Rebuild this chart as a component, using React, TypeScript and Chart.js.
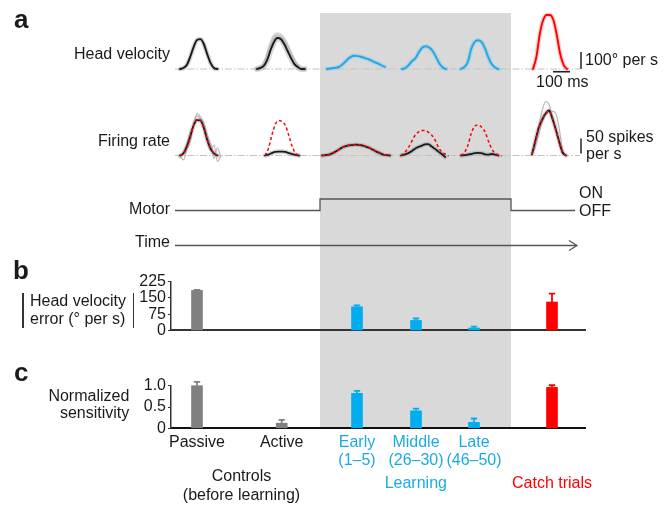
import React, { useEffect, useRef } from 'react';
import { Chart, registerables } from 'chart.js';

Chart.register(...registerables);

// ---------------- data ----------------
const CATEGORY_TICK_LABELS: string[][] = [['Passive'], ['Active'], ['Early', '(1–5)'], ['Middle', '(26–30)'], ['Late', '(46–50)'], ['']];

// panel b: head velocity error (deg/s), mean and s.e.m.
const hvErrorMean: (number | null)[] = [185, null, 109, 46, 11, 131];
const hvErrorSem: (number | null)[] = [2, null, 7, 9, 6, 39];
// panel c: normalized sensitivity, mean and s.e.m.
const sensitivityMean: number[] = [1.0, 0.12, 0.82, 0.41, 0.14, 0.96];
const sensitivitySem: number[] = [0.09, 0.08, 0.06, 0.05, 0.09, 0.05];

const hvErrorTickStep = 75;
const hvErrorMax = 225;
const sensitivityTickStep = 0.5;
const sensitivityMax = 1.0;

// panel a: head velocity traces (deg/s), sampled every 20 ms
const hvPassive = [0, 6, 24, 71, 129, 171, 176, 147, 88, 35, 6, 0];
const hvActive = [0, 6, 18, 53, 112, 159, 182, 176, 147, 106, 65, 29, 12, 0, 0];
const hvActiveTrial = [0, 8, 25, 70, 140, 190, 205, 195, 170, 130, 85, 45, 15, 2, 0];
const hvEarly = [0, 3, 6, 9, 18, 35, 56, 71, 78, 76, 72, 66, 59, 50, 41, 32, 22, 13];
const hvMiddle = [0, 6, 24, 47, 65, 100, 126, 134, 126, 106, 71, 32, 9, 0];
const hvLate = [0, 12, 41, 118, 159, 169, 159, 124, 71, 29, 9, 0];
const hvCatch = [0, 71, 206, 288, 318, 318, 288, 200, 88, 24, 0];

// panel a: firing rate traces (spikes/s), sampled every 20 ms
const frPassive = [0, 7, 30, 63, 100, 118, 117, 93, 53, 23, 7, 0];
const frPassivePred = [0, 5, 25, 60, 100, 120, 118, 92, 55, 25, 8, 0];
const frPassiveTrialA = [0, -15, 20, 45, 110, 132, 122, 90, 45, 15, 35, -20, 0];
const frPassiveTrialB = [-8, 12, 40, 80, 100, 140, 130, 110, 70, 40, -10, 25, -5];
const frActive = [0, 3, 8, 12, 13, 13, 12, 8, 5, 2, 0];
const frActivePred = [0, 23, 67, 103, 117, 113, 100, 67, 30, 7, 0];
const frEarly = [0, 1, 3, 7, 13, 20, 27, 31, 34, 35, 36, 35, 33, 29, 25, 19, 13, 8, 3, 1, 0];
const frEarlyPred = [0, 0, 2, 6, 12, 20, 27, 32, 35, 36, 37, 36, 34, 30, 26, 20, 14, 9, 4, 1, 0];
const frMiddle = [0, 3, 7, 13, 22, 28, 32, 37, 38, 30, 22, 13, 5, -5];
const frMiddlePred = [0, 10, 23, 43, 65, 77, 83, 83, 78, 68, 52, 27, 12, 5, -2];
const frLate = [0, 1, 3, 5, 8, 9, 8, 4, 3, 5, 3, 0];
const frLatePred = [0, 10, 33, 73, 97, 102, 95, 80, 50, 23, 8, 2, -2];
const frCatch = [4, 50, 93, 120, 140, 150, 123, 87, 47, 10, 0];
const frCatchPred = [4, 48, 90, 122, 142, 148, 125, 85, 45, 12, 0];
const frCatchTrialA = [0, 40, 100, 150, 180, 170, 130, 85, 40, 5, 0];
const frCatchTrialB = [5, 30, 70, 110, 135, 145, 148, 140, 90, 20, 0];

// motor state per phase: controls, learning, catch (0 = OFF, 1 = ON)
const motorState = [0, 1, 0];

// ---------------- layout / style ----------------
const FONT = '"Liberation Sans", Arial, Helvetica, sans-serif';
const W = 669;
const SAMPLE_MS = 20;
const X0_PX = 170;
const PX_PER_MS = 0.17;
const msAt = (px: number) => (px - X0_PX) / PX_PER_MS;

const HV_ONSET_PX = [180, 257, 327, 402, 461, 533];
const FR_ONSET_PX = [180, 265, 322, 401, 461, 532];
const COLUMN_PX = [197, 281.7, 357, 416, 474, 552];
const LEARN_START_PX = 320;
const LEARN_END_PX = 511;
const ROW_START_PX = 175;
const ROW_END_PX = 580;

const GRAY = '#808080';
const BLUE = '#00AEEF';
const RED = '#FF0000';
const TRACE_BLUE = '#1DA8E8';
const BLACK = '#1a1a1a';
const COLUMN_COLORS = [GRAY, GRAY, BLUE, BLUE, BLUE, RED];
const TICK_COLORS = [BLACK, BLACK, '#1AABE6', '#1AABE6', '#1AABE6', RED];

Chart.defaults.font.family = FONT;
Chart.defaults.font.size = 16;
Chart.defaults.color = BLACK;

const A_H = 260;
const range = (basePx: number, pxPerUnit: number, h: number) => ({ min: (basePx - h) / pxPerUnit, max: basePx / pxPerUnit });

type St = { color: string; width: number; dash?: number[]; order: number };
function trace(values: number[], onsetPx: number, yAxisID: string, st: St) {
  const t0 = msAt(onsetPx);
  return {
    type: 'line',
    yAxisID,
    data: values.map((v, i) => ({ x: t0 + i * SAMPLE_MS, y: v })),
    borderColor: st.color,
    borderWidth: st.width,
    borderDash: st.dash || [],
    borderCapStyle: st.dash ? 'butt' : 'round',
    borderJoinStyle: 'round',
    pointRadius: 0,
    cubicInterpolationMode: 'monotone',
    fill: false,
    clip: false,
    order: st.order,
  };
}
function segment(points: { x: number; y: number }[], yAxisID: string, color: string, width: number, order: number, extra: any = {}) {
  return { type: 'line', yAxisID, data: points, borderColor: color, borderWidth: width, pointRadius: 0, fill: false, clip: false, order, tension: 0, ...extra };
}

const HALO_GRAY = 'rgba(150,150,150,0.4)';
const TRIAL_GRAY = 'rgba(165,165,165,0.8)';
const HALO_BLUE = 'rgba(29,168,232,0.2)';
const HALO_RED = 'rgba(255,90,90,0.3)';
const BASE_GRAY = 'rgba(195,195,195,1)';
const DASH_BASE = [7, 2, 1.5, 2];
const RED_DASH = [3, 2.5];

const arrowPlugin = {
  id: 'arrowHead',
  afterDatasetsDraw(chart: any) {
    const ctx = chart.ctx;
    chart.data.datasets.forEach((ds: any, i: number) => {
      if (!ds.arrowHead) return;
      const pts = chart.getDatasetMeta(i).data;
      const end = pts[pts.length - 1];
      ctx.save();
      ctx.strokeStyle = ds.borderColor;
      ctx.lineWidth = 1.2;
      ctx.beginPath();
      ctx.moveTo(end.x - 8, end.y - 5);
      ctx.lineTo(end.x, end.y);
      ctx.lineTo(end.x - 8, end.y + 5);
      ctx.stroke();
      ctx.restore();
    });
  },
};

const errorBarPlugin = {
  id: 'errorBars',
  afterDatasetsDraw(chart: any) {
    const ctx = chart.ctx;
    chart.data.datasets.forEach((ds: any, di: number) => {
      if (!ds.errorTops) return;
      const meta = chart.getDatasetMeta(di);
      const yScale = chart.scales[meta.yAxisID];
      meta.data.forEach((el: any, i: number) => {
        const top = ds.errorTops[i];
        if (top == null) return;
        const yTop = yScale.getPixelForValue(top);
        ctx.save();
        ctx.strokeStyle = ds.backgroundColor[i];
        ctx.lineWidth = 1.8;
        ctx.beginPath();
        ctx.moveTo(el.x, el.y);
        ctx.lineTo(el.x, yTop);
        ctx.moveTo(el.x - 3.2, yTop);
        ctx.lineTo(el.x + 3.2, yTop);
        ctx.stroke();
        ctx.restore();
      });
    });
  },
};

function buildTraceChart(canvas: HTMLCanvasElement) {
  const hv = 'yHV', fr = 'yFR';
  const datasets: any[] = [];
  // baselines
  datasets.push(segment([{ x: msAt(ROW_START_PX), y: 0 }, { x: msAt(ROW_END_PX), y: 0 }], hv, BASE_GRAY, 1, 9, { borderDash: DASH_BASE }));
  datasets.push(segment([{ x: msAt(ROW_START_PX), y: 0 }, { x: msAt(ROW_END_PX), y: 0 }], fr, BASE_GRAY, 1, 9, { borderDash: DASH_BASE }));

  // head velocity
  const hvSeries = [hvPassive, hvActive, hvEarly, hvMiddle, hvLate, hvCatch];
  const hvColors = [BLACK, BLACK, TRACE_BLUE, TRACE_BLUE, TRACE_BLUE, RED];
  const hvHalos = [HALO_GRAY, HALO_GRAY, HALO_BLUE, HALO_BLUE, HALO_BLUE, HALO_RED];
  hvSeries.forEach((s, i) => {
    datasets.push(trace(s, HV_ONSET_PX[i], hv, { color: hvHalos[i], width: i === 1 ? 6 : 4.5, order: 6 }));
    datasets.push(trace(s, HV_ONSET_PX[i], hv, { color: hvColors[i], width: 1.9, order: 2 }));
  });
  datasets.push(trace(hvActiveTrial, HV_ONSET_PX[1], hv, { color: HALO_GRAY, width: 4, order: 6 }));

  // firing rate
  const frSeries = [frPassive, frActive, frEarly, frMiddle, frLate, frCatch];
  const frPred = [frPassivePred, frActivePred, frEarlyPred, frMiddlePred, frLatePred, frCatchPred];
  frSeries.forEach((s, i) => {
    datasets.push(trace(s, FR_ONSET_PX[i], fr, { color: HALO_GRAY, width: 4.5, order: 6 }));
    datasets.push(trace(s, FR_ONSET_PX[i], fr, { color: BLACK, width: 1.8, order: 2 }));
    datasets.push(trace(frPred[i], FR_ONSET_PX[i], fr, { color: RED, width: 1.5, dash: RED_DASH, order: 1 }));
  });
  [frPassiveTrialA, frPassiveTrialB].forEach((s) => datasets.push(trace(s, FR_ONSET_PX[0], fr, { color: TRIAL_GRAY, width: 1.2, order: 4 })));
  [frCatchTrialA, frCatchTrialB].forEach((s) => datasets.push(trace(s, FR_ONSET_PX[5], fr, { color: TRIAL_GRAY, width: 1.2, order: 4 })));

  // scale bars
  const barX = msAt(581);
  datasets.push(segment([{ x: barX, y: 0 }, { x: barX, y: 100 }], hv, '#333', 1.6, 1));
  datasets.push(segment([{ x: msAt(553), y: -16 }, { x: msAt(553) + 100, y: -16 }], hv, '#222', 1.6, 1));
  datasets.push(segment([{ x: barX, y: 7 }, { x: barX, y: 57 }], fr, '#333', 1.6, 1));

  // motor
  const phaseStart = [ROW_START_PX, LEARN_START_PX, LEARN_END_PX];
  const motorPts = phaseStart.map((px, i) => ({ x: msAt(px), y: motorState[i] }));
  motorPts.push({ x: msAt(575), y: motorState[motorState.length - 1] });
  datasets.push(segment(motorPts, 'yMotor', '#555', 1.3, 1, { stepped: 'before' }));

  // time arrow
  datasets.push(segment([{ x: msAt(ROW_START_PX), y: 0 }, { x: msAt(577), y: 0 }], 'yTime', '#555', 1.3, 1, { arrowHead: true }));

  return new Chart(canvas, {
    type: 'line',
    data: { datasets },
    options: {
      responsive: false,
      animation: false,
      events: [],
      layout: { padding: 0 },
      plugins: { legend: { display: false }, tooltip: { enabled: false } },
      scales: {
        x: { type: 'linear', display: false, min: msAt(0), max: msAt(W) },
        yHV: { type: 'linear', display: false, ...range(69, 0.17, A_H) },
        yFR: { type: 'linear', display: false, ...range(155.5, 0.3, A_H) },
        yMotor: { type: 'linear', display: false, ...range(210.5, 11.5, A_H) },
        yTime: { type: 'linear', display: false, ...range(245.5, 1, A_H) },
      },
    } as any,
    plugins: [arrowPlugin],
  });
}

const AREA_LEFT = 171;
const AREA_RIGHT = 585;

function buildBarChart(canvas: HTMLCanvasElement, means: (number | null)[], sems: (number | null)[], yMax: number, step: number, padTop: number, padBottom: number, xHeight: number, withLabels: boolean, baseColor: string, tickFmt: (v: number) => string) {
  const idx = means.map((m, i) => i).filter((i) => means[i] != null);
  const data = idx.map((i) => ({ x: msAt(COLUMN_PX[i]), y: means[i] as number }));
  const colors = idx.map((i) => COLUMN_COLORS[i]);
  const tops = idx.map((i) => (means[i] as number) + (sems[i] as number));
  return new Chart(canvas, {
    type: 'bar',
    data: {
      datasets: [
        { data, backgroundColor: colors, barThickness: 11, borderWidth: 0, clip: false, errorTops: tops } as any,
      ],
    },
    options: {
      responsive: false,
      animation: false,
      events: [],
      layout: { padding: { top: padTop, bottom: padBottom, left: 0, right: W - AREA_RIGHT } },
      plugins: { legend: { display: false }, tooltip: { enabled: false } },
      scales: {
        x: {
          type: 'linear',
          offset: false,
          min: msAt(AREA_LEFT),
          max: msAt(AREA_RIGHT),
          grid: { display: false, drawTicks: false, offset: false },
          border: { display: true, color: baseColor, width: 2 },
          afterBuildTicks: (scale: any) => {
            scale.ticks = COLUMN_PX.map((px) => ({ value: msAt(px) }));
          },
          ticks: {
            display: withLabels,
            autoSkip: false,
            maxRotation: 0,
            minRotation: 0,
            padding: 4.7,
            font: { size: 16, lineHeight: 1.15 },
            color: (c: any) => TICK_COLORS[c.index] || BLACK,
            callback: (_v: any, i: number) => CATEGORY_TICK_LABELS[i],
          },
          afterFit: (s: any) => {
            s.height = xHeight;
          },
        },
        y: {
          type: 'linear',
          min: 0,
          max: yMax,
          grid: { display: true, drawOnChartArea: false, drawTicks: true, tickLength: 3, color: '#333', tickColor: '#333' },
          border: { display: true, color: '#333', width: 1.5 },
          afterBuildTicks: (scale: any) => {
            const t: { value: number }[] = [];
            for (let v = 0; v <= yMax + 1e-9; v += step) t.push({ value: v });
            scale.ticks = t;
          },
          ticks: { autoSkip: false, padding: 2, color: BLACK, font: { size: 16 }, callback: (v: any) => tickFmt(Number(v)) },
          afterFit: (s: any) => {
            s.width = AREA_LEFT;
          },
        },
      },
    } as any,
    plugins: [errorBarPlugin],
  });
}

type TP = { x: number; y: number; align?: 'left' | 'right' | 'center'; size?: number; bold?: boolean; color?: string; children: React.ReactNode };
function T({ x, y, align = 'left', size = 16, bold = false, color = BLACK, children }: TP) {
  const style: React.CSSProperties = {
    position: 'absolute',
    top: y - size * 0.8465,
    fontSize: size,
    lineHeight: `${size}px`,
    fontWeight: bold ? 700 : 400,
    color,
    whiteSpace: 'nowrap',
    fontFamily: FONT,
  };
  if (align === 'left') style.left = x;
  else if (align === 'right') style.right = W - x;
  else {
    style.left = x;
    style.transform = 'translateX(-50%)';
  }
  return <div style={style}>{children}</div>;
}

export default function App() {
  const aRef = useRef<HTMLCanvasElement>(null);
  const bRef = useRef<HTMLCanvasElement>(null);
  const cRef = useRef<HTMLCanvasElement>(null);

  useEffect(() => {
    const charts: Chart[] = [];
    if (aRef.current) charts.push(buildTraceChart(aRef.current));
    if (bRef.current)
      charts.push(buildBarChart(bRef.current, hvErrorMean, hvErrorSem, hvErrorMax, hvErrorTickStep, 19.7, 8.7, 0, false, '#333', (v) => String(Math.round(v))));
    if (cRef.current)
      charts.push(
        buildBarChart(cRef.current, sensitivityMean, sensitivitySem, sensitivityMax, sensitivityTickStep, 20.7, 0, 77.7, true, '#111', (v) => (v === 0 ? '0' : v.toFixed(1)))
      );
    return () => charts.forEach((c) => c.destroy());
  }, []);

  const abs = (l: number, t: number, w: number, h: number): React.CSSProperties => ({ position: 'absolute', left: l, top: t, width: w, height: h });

  return (
    <div style={{ position: 'absolute', left: 0, top: 0, width: W, height: 506, background: '#fff', fontFamily: FONT, overflow: 'hidden' }}>
      <div style={{ ...abs(LEARN_START_PX, 13, LEARN_END_PX - LEARN_START_PX, 415), background: '#D9D9D9' }} />
      <canvas ref={aRef} width={W} height={A_H} style={abs(0, 0, W, A_H)} />
      <canvas ref={bRef} width={W} height={80} style={abs(0, 262, W, 80)} />
      <canvas ref={cRef} width={W} height={141} style={abs(0, 365, W, 141)} />

      <T x={14} y={28} size={26} bold>a</T>
      <T x={13} y={279.5} size={26} bold>b</T>
      <T x={14} y={381.5} size={26} bold>c</T>

      <T x={170} y={60} align="right">Head velocity</T>
      <T x={170} y={146.5} align="right">Firing rate</T>
      <T x={585} y={65.5}>100° per s</T>
      <T x={536} y={88}>100 ms</T>
      <T x={586} y={142.7}>50 spikes</T>
      <T x={586} y={160}>per s</T>
      <T x={170} y={215} align="right">Motor</T>
      <T x={170} y={248} align="right">Time</T>
      <T x={579} y={199}>ON</T>
      <T x={579} y={217}>OFF</T>

      <div style={{ ...abs(22, 293, 1.5, 35), background: '#333' }} />
      <div style={{ ...abs(132.5, 293, 1.5, 35), background: '#333' }} />
      <T x={30} y={306.7}>Head velocity</T>
      <T x={30} y={325}>error (° per s)</T>

      <T x={129.3} y={401.7} align="right">Normalized</T>
      <T x={129.3} y={418.3} align="right">sensitivity</T>

      <T x={241.5} y={482} align="center">Controls</T>
      <T x={241.5} y={500.5} align="center">(before learning)</T>
      <T x={415.8} y={488.3} align="center" color="#1AABE6">Learning</T>
      <T x={552} y={488.3} align="center" color={RED}>Catch trials</T>
    </div>
  );
}
